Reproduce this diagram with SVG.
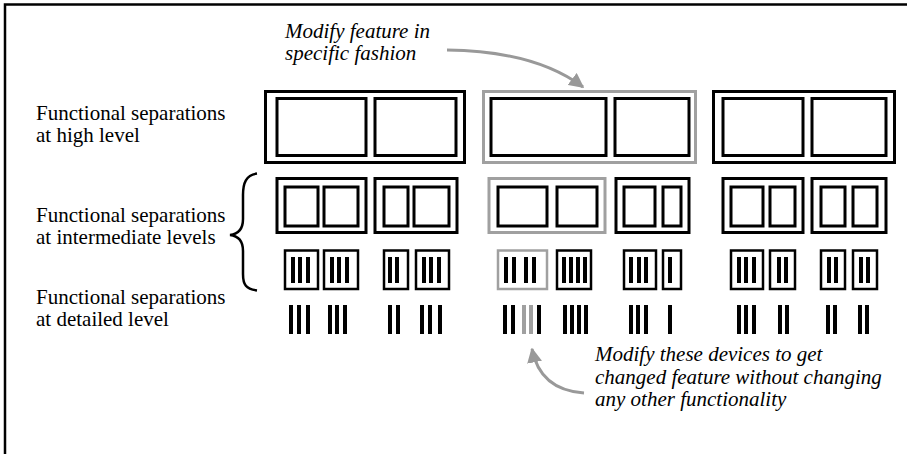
<svg xmlns="http://www.w3.org/2000/svg" width="907" height="454" viewBox="0 0 907 454">
<defs>
<style>
text{font-family:'Liberation Serif','Tinos','DejaVu Serif','Times New Roman',serif;font-size:21px;fill:#000}
.it{font-style:italic}
.bk{fill:none;stroke:#000;stroke-width:3}
.gy{fill:none;stroke:#a0a0a0;stroke-width:3}
.sm{fill:none;stroke:#000;stroke-width:2.5}
.smg{fill:none;stroke:#a0a0a0;stroke-width:2.5}
.bar{fill:#000}
.gbar{fill:#a0a0a0}
.arr{fill:none;stroke:#999;stroke-width:3}
</style>
<marker id="ah" viewBox="0 0 10 10" refX="9" refY="5" markerWidth="5" markerHeight="5" orient="auto" markerUnits="strokeWidth">
<path d="M0,0 L10,5 L0,10 z" fill="#999"/>
</marker>
</defs>
<rect width="907" height="454" fill="#fff"/>
<path d="M5,454 L5,4.5 L907,4.5" fill="none" stroke="#000" stroke-width="2.5"/>

<g id="labels">
<text x="36" y="120">Functional separations</text>
<text x="36" y="142">at high level</text>
<text x="36" y="222">Functional separations</text>
<text x="36" y="244">at intermediate levels</text>
<text x="36" y="304">Functional separations</text>
<text x="36" y="326">at detailed level</text>
</g>
<g id="brace">
<path d="M257,173.5 C246,175 243,183 243,195 L243,219 C243,229 239,234 230,235 C239,236 243,241 243,251 L243,274 C243,285 246,289 257,290.5" fill="none" stroke="#000" stroke-width="2.5"/>
</g>

<g id="high-1">
<rect class="bk" x="265.5" y="91.5" width="199" height="71"/>
<rect class="bk" x="277" y="98.5" width="89" height="57"/>
<rect class="bk" x="375" y="98.5" width="81" height="57"/>
</g>
<g id="high-2">
<rect class="gy" x="483.5" y="91.5" width="212" height="71"/>
<rect class="bk" x="491" y="98.5" width="115" height="57"/>
<rect class="bk" x="615" y="98.5" width="74" height="57"/>
</g>
<g id="high-3">
<rect class="bk" x="713.5" y="91.5" width="181" height="71"/>
<rect class="bk" x="723" y="98.5" width="80" height="57"/>
<rect class="bk" x="812" y="98.5" width="74" height="57"/>
</g>

<g id="mid-A">
<rect class="bk" x="277" y="178.5" width="89" height="54"/>
<rect class="bk" x="285" y="187" width="33" height="39"/>
<rect class="bk" x="324" y="187" width="34" height="39"/>
</g>
<g id="mid-B">
<rect class="bk" x="375" y="178.5" width="82" height="54"/>
<rect class="bk" x="384" y="187" width="24" height="39"/>
<rect class="bk" x="414" y="187" width="35" height="39"/>
</g>
<g id="mid-C">
<rect class="gy" x="489" y="178.5" width="116" height="54"/>
<rect class="bk" x="498" y="187" width="49" height="39"/>
<rect class="bk" x="557" y="187" width="40" height="39"/>
</g>
<g id="mid-D">
<rect class="bk" x="616" y="178.5" width="73" height="54"/>
<rect class="bk" x="624" y="187" width="31" height="39"/>
<rect class="bk" x="663" y="187" width="18" height="39"/>
</g>
<g id="mid-E">
<rect class="bk" x="723" y="178.5" width="80" height="54"/>
<rect class="bk" x="731" y="187" width="32" height="39"/>
<rect class="bk" x="770" y="187" width="25" height="39"/>
</g>
<g id="mid-F">
<rect class="bk" x="812" y="178.5" width="74" height="54"/>
<rect class="bk" x="821" y="187" width="24" height="39"/>
<rect class="bk" x="853" y="187" width="24" height="39"/>
</g>

<g id="small-a"><rect class="sm" x="285" y="250.5" width="33" height="38.5"/><rect class="bar" x="291" y="257" width="4" height="26"/><rect class="bar" x="298" y="257" width="4" height="26"/><rect class="bar" x="306" y="257" width="4" height="26"/></g>
<g id="small-b"><rect class="sm" x="324" y="250.5" width="34" height="38.5"/><rect class="bar" x="330" y="257" width="4" height="26"/><rect class="bar" x="337" y="257" width="4" height="26"/><rect class="bar" x="345" y="257" width="4" height="26"/></g>
<g id="small-c"><rect class="sm" x="384" y="250.5" width="24" height="38.5"/><rect class="bar" x="388" y="257" width="4" height="26"/><rect class="bar" x="395" y="257" width="4" height="26"/></g>
<g id="small-d"><rect class="sm" x="416" y="250.5" width="33" height="38.5"/><rect class="bar" x="422" y="257" width="4" height="26"/><rect class="bar" x="429" y="257" width="4" height="26"/><rect class="bar" x="437" y="257" width="4" height="26"/></g>
<g id="small-e"><rect class="smg" x="498" y="250.5" width="49" height="38.5"/><rect class="bar" x="504" y="257" width="4" height="26"/><rect class="bar" x="512" y="257" width="4" height="26"/><rect class="bar" x="524" y="257" width="4" height="26"/><rect class="bar" x="532" y="257" width="4" height="26"/></g>
<g id="small-f"><rect class="sm" x="557" y="250.5" width="34" height="38.5"/><rect class="bar" x="562" y="257" width="4" height="26"/><rect class="bar" x="569" y="257" width="4" height="26"/><rect class="bar" x="576" y="257" width="4" height="26"/><rect class="bar" x="583" y="257" width="4" height="26"/></g>
<g id="small-g"><rect class="sm" x="624" y="250.5" width="32" height="38.5"/><rect class="bar" x="629" y="257" width="4" height="26"/><rect class="bar" x="637" y="257" width="4" height="26"/><rect class="bar" x="644" y="257" width="4" height="26"/></g>
<g id="small-h"><rect class="sm" x="663" y="250.5" width="18" height="38.5"/><rect class="bar" x="668" y="257" width="4" height="26"/></g>
<g id="small-i"><rect class="sm" x="731" y="250.5" width="32" height="38.5"/><rect class="bar" x="737" y="257" width="4" height="26"/><rect class="bar" x="744" y="257" width="4" height="26"/><rect class="bar" x="752" y="257" width="4" height="26"/></g>
<g id="small-j"><rect class="sm" x="770" y="250.5" width="25" height="38.5"/><rect class="bar" x="777" y="257" width="4" height="26"/><rect class="bar" x="784" y="257" width="4" height="26"/></g>
<g id="small-k"><rect class="sm" x="821" y="250.5" width="24" height="38.5"/><rect class="bar" x="827" y="257" width="4" height="26"/><rect class="bar" x="834" y="257" width="4" height="26"/></g>
<g id="small-l"><rect class="sm" x="853" y="250.5" width="24" height="38.5"/><rect class="bar" x="859" y="257" width="4" height="26"/><rect class="bar" x="866" y="257" width="4" height="26"/></g>

<g id="detail">
<rect class="bar" x="289" y="305" width="4" height="29"/><rect class="bar" x="297" y="305" width="4" height="29"/><rect class="bar" x="306" y="305" width="4" height="29"/>
<rect class="bar" x="328" y="305" width="4" height="29"/><rect class="bar" x="335" y="305" width="4" height="29"/><rect class="bar" x="343" y="305" width="4" height="29"/>
<rect class="bar" x="388" y="305" width="4" height="29"/><rect class="bar" x="396" y="305" width="4" height="29"/>
<rect class="bar" x="420" y="305" width="4" height="29"/><rect class="bar" x="428" y="305" width="4" height="29"/><rect class="bar" x="438" y="305" width="4" height="29"/>
<rect class="bar" x="503" y="305" width="4" height="29"/><rect class="bar" x="511" y="305" width="4" height="29"/><rect class="gbar" x="522" y="305" width="4" height="29"/><rect class="gbar" x="529" y="305" width="4" height="29"/><rect class="bar" x="537" y="305" width="4" height="29"/>
<rect class="bar" x="563" y="305" width="4" height="29"/><rect class="bar" x="570" y="305" width="4" height="29"/><rect class="bar" x="577" y="305" width="4" height="29"/><rect class="bar" x="584" y="305" width="4" height="29"/>
<rect class="bar" x="629" y="305" width="4" height="29"/><rect class="bar" x="636" y="305" width="4" height="29"/><rect class="bar" x="644" y="305" width="4" height="29"/>
<rect class="bar" x="668" y="305" width="4" height="29"/>
<rect class="bar" x="737" y="305" width="4" height="29"/><rect class="bar" x="744" y="305" width="4" height="29"/><rect class="bar" x="752" y="305" width="4" height="29"/>
<rect class="bar" x="778" y="305" width="4" height="29"/><rect class="bar" x="785" y="305" width="4" height="29"/>
<rect class="bar" x="826" y="305" width="4" height="29"/><rect class="bar" x="833" y="305" width="4" height="29"/>
<rect class="bar" x="858" y="305" width="4" height="29"/><rect class="bar" x="865" y="305" width="4" height="29"/>
</g>

<g id="note-top">
<text class="it" x="285" y="38">Modify feature in</text>
<text class="it" x="285" y="60">specific fashion</text>
</g>
<g id="note-bottom">
<text class="it" x="595" y="361">Modify these devices to get</text>
<text class="it" x="595" y="384">changed feature without changing</text>
<text class="it" x="595" y="406">any other functionality</text>
</g>

<g id="connectors">
<path class="arr" d="M447,50 Q535,51 583,87" marker-end="url(#ah)"/>
<path class="arr" d="M584,393 Q540,390 532,349" marker-end="url(#ah)"/>
</g>
</svg>
